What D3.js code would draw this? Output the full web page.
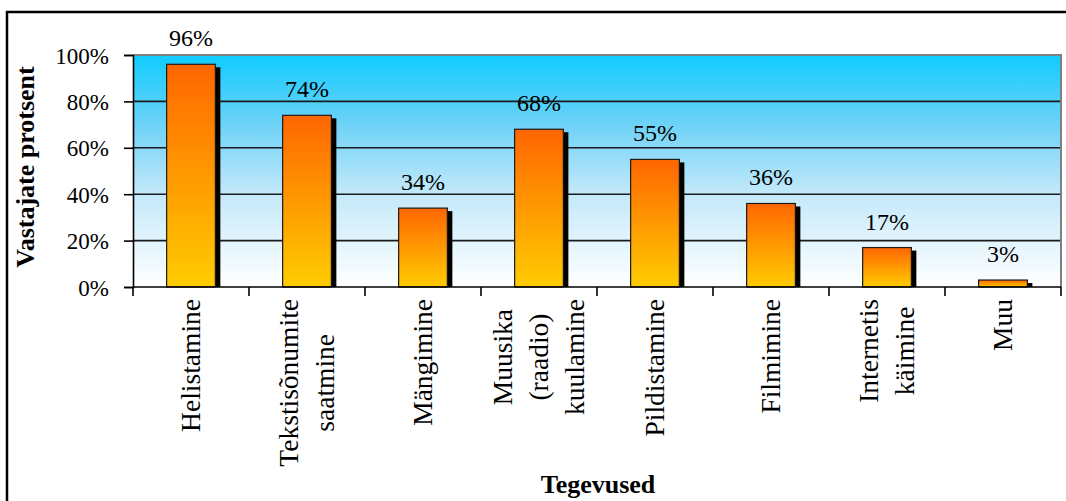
<!DOCTYPE html>
<html><head><meta charset="utf-8">
<script src="https://cdn.jsdelivr.net/npm/d3@7"></script>
<style>
html,body{margin:0;padding:0;background:#fff;}
svg{display:block;}
</style></head>
<body>
<svg id="chart" width="1066" height="501"></svg>
<script>
const categories = [
  ["Helistamine"],
  ["Tekstisõnumite","saatmine"],
  ["Mängimine"],
  ["Muusika","(raadio)","kuulamine"],
  ["Pildistamine"],
  ["Filmimine"],
  ["Internetis","käimine"],
  ["Muu"]
];
const values = [96, 74, 34, 68, 55, 36, 17, 3];
const yTicks = [0, 20, 40, 60, 80, 100];
const yTitle = "Vastajate protsent";
const xTitle = "Tegevused";

const FONT = "Liberation Serif";
const root = d3.select("#chart");
const svg = root.append("g").attr("font-family", FONT);
const m = {left:133, right:1061, top:55, bottom:287};
const keys = categories.map((c,i)=>i);
const x = d3.scaleBand().domain(keys).range([m.left, m.right]).padding(0);
const y = d3.scaleLinear().domain([0,100]).range([m.bottom, m.top]);
const barW = x.bandwidth()*0.42;

const defs = root.append("defs");
const bg = defs.append("linearGradient").attr("id","bg").attr("x1",0).attr("y1",0).attr("x2",0).attr("y2",1);
bg.append("stop").attr("offset","0%").attr("stop-color","#10CCFF");
bg.append("stop").attr("offset","30%").attr("stop-color","#6ED2F7");
bg.append("stop").attr("offset","60%").attr("stop-color","#C4E9FA");
bg.append("stop").attr("offset","100%").attr("stop-color","#FFFFFF");
const bar = defs.append("linearGradient").attr("id","bar").attr("x1",0).attr("y1",0).attr("x2",0).attr("y2",1);
bar.append("stop").attr("offset","0%").attr("stop-color","#FF6600");
bar.append("stop").attr("offset","100%").attr("stop-color","#FFCC00");

// outer border
svg.append("rect").attr("x",7).attr("y",12).attr("width",1100).attr("height",600)
  .attr("fill","none").attr("stroke","#000").attr("stroke-width",2.5);

// plot background
svg.append("rect").attr("x",m.left).attr("y",m.top).attr("width",m.right-m.left).attr("height",m.bottom-m.top)
  .attr("fill","url(#bg)");

// gridlines
svg.append("g").selectAll("line").data(yTicks.filter(t=>t>0 && t<100)).join("line")
  .attr("x1",m.left).attr("x2",m.right).attr("y1",d=>y(d)).attr("y2",d=>y(d))
  .attr("stroke","#1a1a1a").attr("stroke-width",1.6);
// top and right plot border
svg.append("path").attr("d",`M${m.left},${y(100)}H${m.right}V${m.bottom}`)
  .attr("fill","none").attr("stroke","#808080").attr("stroke-width",2);

// shadows
svg.append("g").selectAll("rect").data(values).join("rect")
  .attr("x",(d,i)=>x(i)+x.bandwidth()/2-barW/2+5)
  .attr("y",d=>y(d)+3)
  .attr("width",barW)
  .attr("height",d=>Math.max(0,m.bottom-y(d)-3))
  .attr("fill","#000");
// bars
svg.append("g").selectAll("rect").data(values).join("rect")
  .attr("x",(d,i)=>x(i)+x.bandwidth()/2-barW/2)
  .attr("y",d=>y(d))
  .attr("width",barW)
  .attr("height",d=>m.bottom-y(d))
  .attr("fill","url(#bar)")
  .attr("stroke","#1a1a1a").attr("stroke-width",1.2);

// value labels
svg.append("g").selectAll("text").data(values).join("text")
  .attr("x",(d,i)=>x(i)+x.bandwidth()/2)
  .attr("y",d=>y(d)-18)
  .attr("text-anchor","middle").attr("font-size",24).attr("fill","#000")
  .attr("font-family",FONT)
  .text(d=>d+"%");

// y axis
const yAxis = svg.append("g").attr("transform",`translate(${m.left},0)`)
  .call(d3.axisLeft(y).tickValues(yTicks).tickFormat(d=>d+"%").tickSize(9).tickPadding(15));
yAxis.attr("font-family",FONT);
yAxis.select(".domain").attr("stroke","#000").attr("stroke-width",1.6);
yAxis.selectAll(".tick line").attr("stroke","#000").attr("stroke-width",1.6);
yAxis.selectAll(".tick text").attr("font-size",23).attr("font-family",FONT).attr("fill","#000").attr("dy","0.35em");

// x axis
const xTickPos = keys.map(k=>x(k)).concat([m.right]);
const xg = svg.append("g");
xg.append("line").attr("x1",m.left).attr("x2",m.right).attr("y1",m.bottom).attr("y2",m.bottom)
  .attr("stroke","#000").attr("stroke-width",1.6);
xg.selectAll("line.t").data(xTickPos).join("line").attr("class","t")
  .attr("x1",d=>d).attr("x2",d=>d).attr("y1",m.bottom).attr("y2",m.bottom+9)
  .attr("stroke","#000").attr("stroke-width",1.6);

// x labels (rotated, multi-line)
const lineH = 36, fs = 27.5;
categories.forEach((lines,i)=>{
  const cx = x(i)+x.bandwidth()/2;
  const n = lines.length;
  const g = svg.append("g");
  const texts = lines.map((t,j)=>{
    const off = (j-(n-1)/2)*lineH;
    return g.append("text").attr("font-size",fs).attr("fill","#000").attr("font-family",FONT)
      .attr("text-anchor","middle").text(t).datum(off);
  });
  const L = d3.max(texts, t=>t.node().getComputedTextLength());
  texts.forEach(t=>{
    const off = t.datum();
    t.attr("transform",`translate(${cx+off+9},299) rotate(-90)`).attr("x",-L/2).attr("y",0);
  });
});

// titles
svg.append("text").attr("transform",`translate(34,167) rotate(-90)`).attr("font-family",FONT)
  .attr("text-anchor","middle").attr("font-size",26).attr("font-weight","bold").text(yTitle);
svg.append("text").attr("x",598).attr("y",493).attr("font-family",FONT)
  .attr("text-anchor","middle").attr("font-size",26).attr("font-weight","bold").text(xTitle);
</script>
</body></html>
